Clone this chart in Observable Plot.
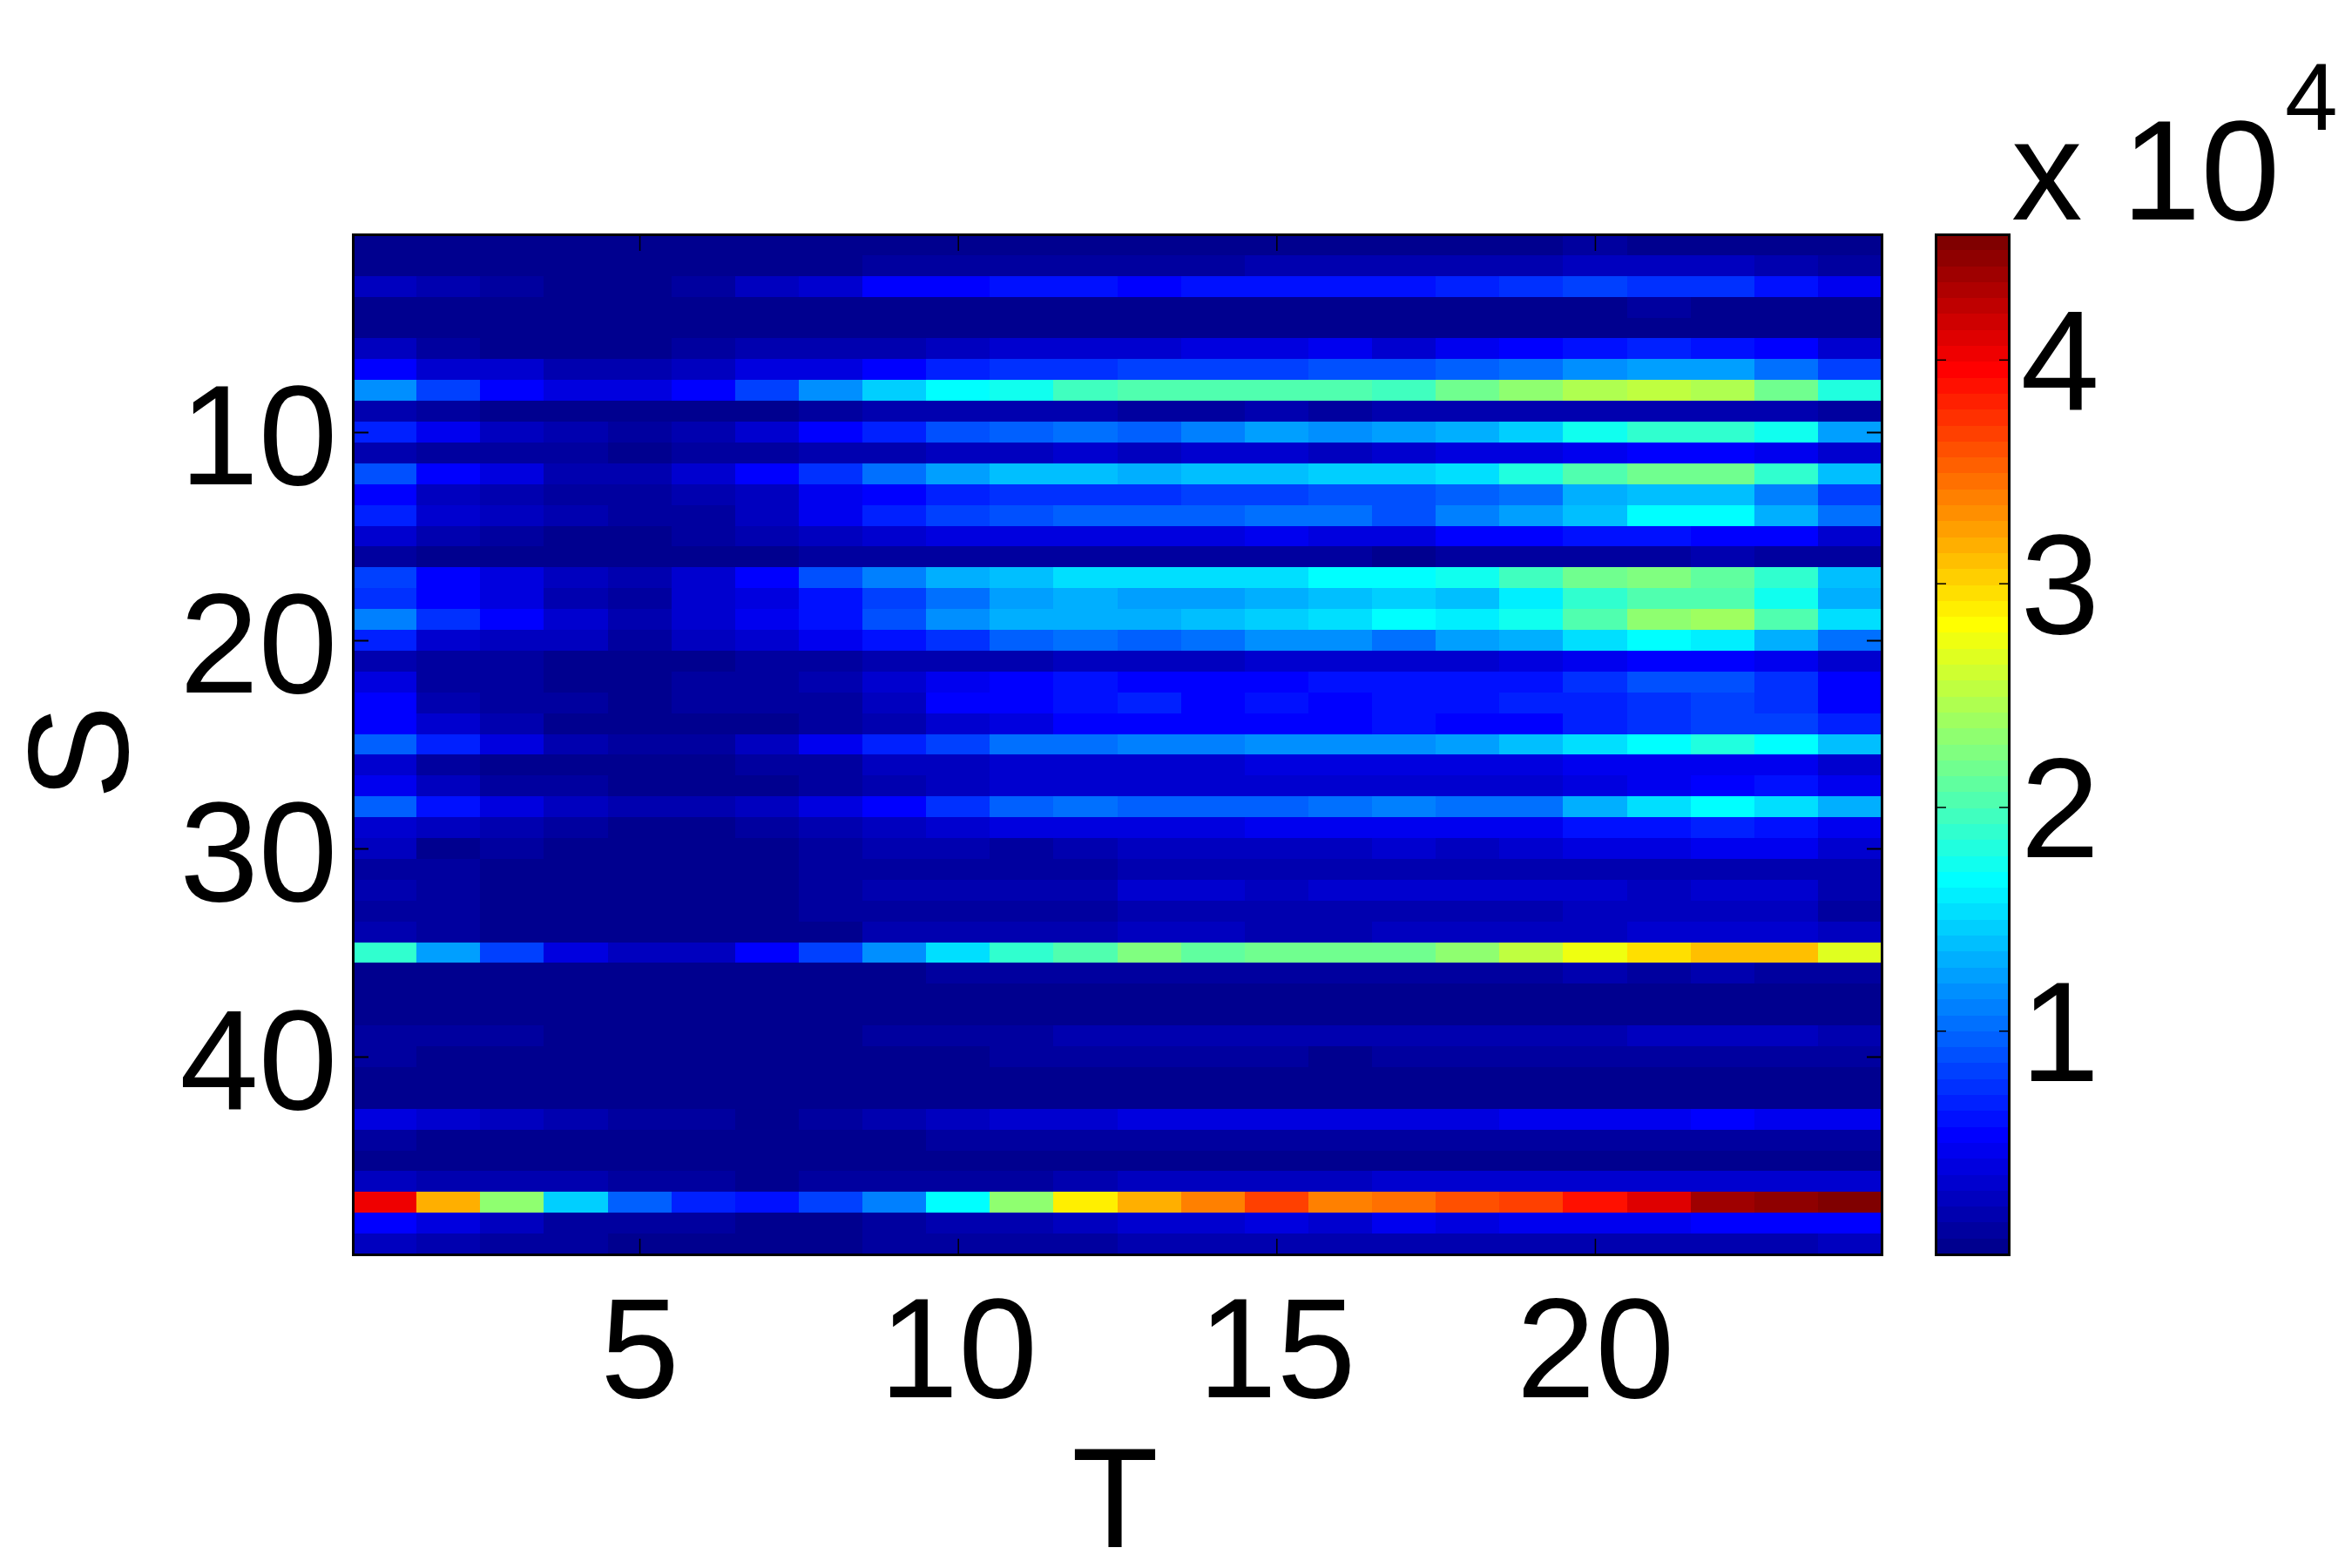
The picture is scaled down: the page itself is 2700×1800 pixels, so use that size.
<!DOCTYPE html>
<html>
<head>
<meta charset="utf-8">
<script src="https://cdn.jsdelivr.net/npm/d3@7"></script>
<script src="https://cdn.jsdelivr.net/npm/@observablehq/plot@0.6"></script>
<style>
  html, body { margin: 0; padding: 0; background: #fff; }
  #page { position: relative; width: 2700px; height: 1800px; overflow: hidden; font-family: "Liberation Sans", Arial, sans-serif; color: #000; }
  #main, #bar { position: absolute; top: 0; }
  #main { left: 0; }
  #bar { left: 2200px; }
  .exp { position: absolute; line-height: 1; white-space: pre; }
</style>
</head>
<body>
<div id="page">
  <div id="main"></div>
  <div id="bar"></div>
  <div class="exp" style="left:2309px;top:114px;font-size:163px">x 10</div>
  <div class="exp" style="left:2623px;top:57px;font-size:109px">4</div>
</div>
<script>
// Readings: colormap level (1..64) of each cell, one list per S row, T = 1..24.
const levelRows = [
[1,1,1,1,1,1,1,1,1,1,1,1,1,1,1,1,1,1,1,2,1,1,1,1],
[1,1,1,1,1,1,1,1,2,2,2,2,2,2,3,3,3,3,3,4,4,4,3,2],
[4,3,2,1,1,2,4,5,8,8,9,9,8,9,9,9,9,10,11,12,11,11,9,7],
[1,1,1,1,1,1,1,1,1,1,1,1,1,1,1,1,1,1,1,1,2,1,1,1],
[1,1,1,1,1,1,1,1,1,1,1,1,1,1,1,1,1,1,1,1,1,1,1,1],
[4,2,1,1,1,2,3,3,3,4,5,5,5,6,6,7,5,7,8,9,10,9,8,5],
[8,5,5,3,3,4,6,6,8,10,11,11,12,12,12,13,13,14,15,17,18,18,15,12],
[17,12,8,6,6,8,12,17,21,24,25,28,29,29,29,29,28,31,33,35,36,35,31,26],
[3,2,1,1,1,1,1,2,3,3,3,3,2,2,3,2,3,3,3,3,3,3,3,2],
[10,7,4,3,2,3,5,8,10,13,14,15,14,16,18,17,18,19,21,25,27,27,25,18],
[3,2,2,2,1,2,2,3,3,4,4,5,4,5,5,4,5,6,6,7,8,8,7,5],
[13,8,6,3,3,5,8,11,15,18,20,20,19,20,20,21,21,22,26,29,31,31,27,20],
[8,4,3,2,2,3,4,7,8,10,11,11,11,12,12,13,13,14,15,19,20,20,16,12],
[10,5,4,3,2,2,4,7,10,12,13,14,14,14,15,15,13,16,18,20,24,24,19,15],
[5,3,2,1,1,2,3,4,5,6,6,6,6,6,7,6,6,8,8,9,9,8,8,5],
[2,1,1,1,1,1,1,2,2,2,2,2,2,2,2,2,1,2,2,2,2,3,2,2],
[12,8,6,4,3,5,8,13,16,19,20,22,22,22,22,24,24,25,28,31,32,30,27,20],
[11,8,6,3,2,5,6,9,12,15,18,19,18,18,19,20,21,20,23,27,29,29,25,19],
[16,11,8,5,3,5,7,9,13,17,19,19,19,20,21,22,24,23,25,29,33,34,29,22],
[10,5,4,4,2,4,5,7,9,11,14,15,14,15,17,17,15,18,19,22,24,23,19,15],
[3,2,2,1,1,1,2,2,3,3,3,4,4,4,5,5,5,5,6,7,8,8,7,5],
[6,2,2,1,1,2,2,3,5,7,8,9,8,8,8,9,9,9,9,11,13,13,11,8],
[8,3,2,2,1,2,2,2,4,8,8,9,10,8,9,8,9,9,10,10,11,12,11,8],
[8,5,3,1,1,1,1,2,3,5,6,8,8,8,8,8,9,8,8,10,11,12,12,10],
[14,10,6,3,2,2,4,7,10,12,15,15,16,16,17,17,17,18,20,22,24,26,24,20],
[5,2,1,1,1,1,2,2,4,4,5,5,5,5,6,6,6,6,6,7,7,7,7,5],
[7,4,2,2,1,1,1,2,3,4,5,5,5,5,5,5,5,5,5,6,7,8,9,7],
[14,9,6,4,3,3,4,6,8,11,14,15,14,14,14,15,16,15,15,19,22,24,22,19],
[5,4,3,2,1,1,2,3,4,5,6,6,6,6,7,7,7,7,7,9,9,10,9,7],
[4,1,2,1,1,1,1,2,3,3,2,3,4,4,4,4,5,4,5,6,6,7,7,5],
[2,2,1,1,1,1,1,2,2,2,2,2,3,3,3,3,3,3,3,3,3,3,3,3],
[3,2,1,1,1,1,1,2,3,3,3,3,5,5,4,5,5,5,5,5,4,5,5,3],
[2,2,1,1,1,1,1,2,2,2,2,2,3,3,3,3,3,3,3,4,4,4,4,2],
[3,2,1,1,1,1,1,1,3,3,3,3,4,4,3,3,4,4,4,4,5,5,5,4],
[27,18,12,6,4,4,8,12,17,22,27,29,32,30,31,31,31,33,36,39,42,44,44,38],
[1,1,1,1,1,1,1,1,1,2,2,2,2,2,2,2,2,2,2,3,2,3,2,2],
[1,1,1,1,1,1,1,1,1,1,1,1,1,1,1,1,1,1,1,1,1,1,1,1],
[1,1,1,1,1,1,1,1,1,1,1,1,1,1,1,1,1,1,1,1,1,1,1,1],
[2,2,2,1,1,1,1,1,2,2,2,3,3,3,3,3,3,3,3,3,4,4,4,3],
[2,1,1,1,1,1,1,1,1,1,2,2,2,2,2,1,2,2,2,2,2,2,2,2],
[1,1,1,1,1,1,1,1,1,1,1,1,1,1,1,1,1,1,1,1,1,1,1,1],
[1,1,1,1,1,1,1,1,1,1,1,1,1,1,1,1,1,1,1,1,1,1,1,1],
[6,5,4,3,2,2,1,2,3,4,5,5,6,6,6,6,6,6,7,7,7,8,7,7],
[2,1,1,1,1,1,1,1,1,2,2,2,2,2,2,2,2,2,2,2,2,2,2,2],
[1,1,1,1,1,1,1,1,1,1,1,1,1,1,1,1,1,1,1,1,1,1,1,1],
[4,3,3,3,2,2,1,2,2,2,2,3,4,4,4,4,5,5,5,5,5,5,5,5],
[57,45,33,21,14,10,9,12,16,24,33,41,45,48,52,48,49,51,52,55,58,62,63,64],
[8,6,4,2,2,2,1,1,2,3,3,4,5,5,6,5,7,6,7,7,7,8,8,8],
[4,3,2,2,1,1,1,1,2,2,2,2,3,3,3,3,3,3,3,3,3,3,3,4]
];
const tValues = d3.range(1, 25);
const sValues = d3.range(1, 50);
const xTicks = [5, 10, 15, 20];
const yTicks = [10, 20, 30, 40];
const barTicks = [10000, 20000, 30000, 40000];
const colorMax = 45600;
const levelCount = 64;
const levelWidth = colorMax / levelCount;

// MATLAB's 64-level jet colormap
const jet = d3.range(levelCount).map(i => {
  const v = (i + 1) / levelCount * 4;
  const c = t => Math.round(255 * Math.max(0, Math.min(1, t)));
  return `rgb(${c(Math.min(v - 1.5, 4.5 - v))},${c(Math.min(v - 0.5, 3.5 - v))},${c(Math.min(v + 0.5, 2.5 - v))})`;
});
const colorScale = {
  type: "threshold",
  domain: d3.range(1, levelCount).map(i => i * levelWidth),
  range: jet
};

const cells = [];
levelRows.forEach((row, r) => row.forEach((lv, c) => {
  cells.push({ t: tValues[c], s: sValues[r], value: (lv - 0.5) * levelWidth });
}));

const FONT = 163;
const baseStyle = { fontFamily: "'Liberation Sans', Arial, sans-serif", background: "transparent", overflow: "visible", color: "#000" };

const main = Plot.plot({
  width: 2200, height: 1800,
  marginLeft: 405, marginRight: 40, marginTop: 269, marginBottom: 360,
  style: baseStyle,
  x: { domain: [0.5, 24.5] },
  y: { domain: [49.5, 0.5] },
  color: colorScale,
  marks: [
    Plot.rect(cells, {
      x1: d => d.t - 0.5, x2: d => d.t + 0.5,
      y1: d => d.s - 0.5, y2: d => d.s + 0.5,
      fill: "value", shapeRendering: "crispEdges"
    }),
    Plot.frame({ stroke: "#000", strokeWidth: 3 }),
    // tick marks, pointing inward on all four sides
    Plot.axisX({ anchor: "bottom", ticks: xTicks, tickSize: -18, fill: "none", strokeWidth: 1.5, label: null }),
    Plot.axisX({ anchor: "top", ticks: xTicks, tickSize: -18, fill: "none", strokeWidth: 1.5, label: null }),
    Plot.axisY({ anchor: "left", ticks: yTicks, tickSize: -18, fill: "none", strokeWidth: 2, label: null }),
    Plot.axisY({ anchor: "right", ticks: yTicks, tickSize: -18, fill: "none", strokeWidth: 2, label: null }),
    // tick labels
    Plot.axisX({ anchor: "bottom", ticks: xTicks, tickSize: 0, tickPadding: 48, fontSize: FONT, label: null }),
    Plot.axisY({ anchor: "left", ticks: yTicks, tickSize: 0, tickPadding: 18, fontSize: FONT, dy: 7, label: null }),
    // axis titles
    Plot.text(["T"], { frameAnchor: "bottom", fontSize: FONT, dx: -3, dy: 335 }),
    Plot.text(["S"], { frameAnchor: "left", fontSize: FONT, rotate: -90, dx: -312, dy: 63 })
  ]
});
document.getElementById("main").append(main);

const barLevels = d3.range(levelCount).map(i => ({ lo: i * levelWidth, hi: (i + 1) * levelWidth, mid: (i + 0.5) * levelWidth }));
const bar = Plot.plot({
  width: 500, height: 1800,
  marginLeft: 22, marginRight: 394, marginTop: 269, marginBottom: 360,
  style: baseStyle,
  x: { domain: [0, 1], axis: null },
  y: { domain: [0, colorMax] },
  color: colorScale,
  marks: [
    Plot.rect(barLevels, { x1: 0, x2: 1, y1: "lo", y2: "hi", fill: "mid", shapeRendering: "crispEdges" }),
    Plot.frame({ stroke: "#000", strokeWidth: 3 }),
    Plot.axisY({ anchor: "right", ticks: barTicks, tickSize: -12, fill: "none", strokeWidth: 1.5, label: null }),
    Plot.axisY({ anchor: "left", ticks: barTicks, tickSize: -12, fill: "none", strokeWidth: 1.5, label: null }),
    Plot.axisY({ anchor: "right", ticks: barTicks, tickFormat: d => d / 10000, tickSize: 0, tickPadding: 13, fontSize: FONT, dy: 5, label: null })
  ]
});
document.getElementById("bar").append(bar);
</script>
</body>
</html>
